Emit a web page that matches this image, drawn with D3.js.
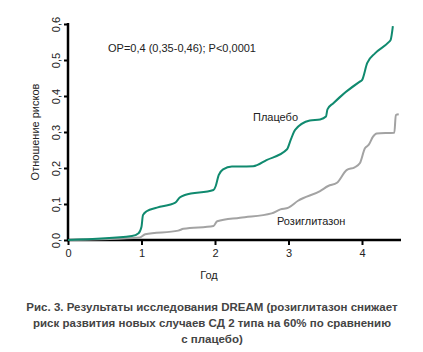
<!DOCTYPE html>
<html>
<head>
<meta charset="utf-8">
<script src="https://cdn.jsdelivr.net/npm/d3@7"></script>
<style>
  body { margin: 0; background: #fff; }
  text { font-family: "Liberation Sans", Arial, sans-serif; }
</style>
</head>
<body>
<script>
// years and cumulative risk
var placeboT = [0, 0.87, 0.96, 1.0, 1.02, 1.07, 1.21, 1.46, 1.52, 1.59, 1.98, 2.01, 2.05, 2.11, 2.23, 2.34, 2.52, 2.70, 2.98, 3.03, 3.09, 3.29, 3.43, 3.51, 3.53, 3.61, 3.97, 4.0, 4.07, 4.18, 4.36, 4.39, 4.42];
var placeboV = [0, 0.011, 0.019, 0.037, 0.069, 0.08, 0.09, 0.104, 0.118, 0.125, 0.139, 0.15, 0.18, 0.196, 0.204, 0.204, 0.205, 0.222, 0.252, 0.278, 0.306, 0.332, 0.335, 0.343, 0.363, 0.38, 0.44, 0.444, 0.491, 0.519, 0.549, 0.556, 0.594];

var rosiT = [0, 0.98, 1.05, 1.5, 1.57, 1.98, 2.03, 2.34, 2.77, 2.89, 3.0, 3.13, 3.43, 3.54, 3.66, 3.79, 3.9, 3.97, 4.04, 4.09, 4.15, 4.2, 4.44, 4.46, 4.5];
var rosiV = [0, 0.007, 0.016, 0.026, 0.031, 0.039, 0.052, 0.062, 0.074, 0.085, 0.09, 0.109, 0.136, 0.15, 0.159, 0.194, 0.202, 0.213, 0.255, 0.264, 0.287, 0.296, 0.298, 0.347, 0.349];

var xTicks = [0, 1, 2, 3, 4];
var yTicks = [0, 0.1, 0.2, 0.3, 0.4, 0.5, 0.6];

var caption = [
  "Рис. 3. Результаты исследования DREAM (розиглитазон снижает",
  "риск развития новых случаев СД 2 типа на 60% по сравнению",
  "с плацебо)"
];

var w = 423, h = 352;

var svg = d3.select("body")
  .append("svg")
  .attr("width", w)
  .attr("height", h);

var x = d3.scaleLinear().domain([0, 4.5]).range([68, 398.75]);
var y = d3.scaleLinear().domain([0, 0.6]).range([240, 24]);

var fmt = function (d) { return d3.format(".1f")(d).replace(".", ","); };

// x axis
var xaxis = svg.append("g")
  .attr("transform", "translate(0,240)")
  .call(d3.axisBottom(x).tickValues(xTicks).tickSize(5).tickSizeOuter(0).tickFormat(d3.format("d")));
xaxis.select(".domain").attr("stroke-width", 2.5).attr("d", "M67,0H401");
xaxis.selectAll(".tick line").attr("stroke-width", 2);
xaxis.selectAll(".tick text").attr("font-size", 11).attr("fill", "#222").attr("y", 9);

// y axis
var yaxis = svg.append("g")
  .attr("transform", "translate(68,0)")
  .call(d3.axisLeft(y).tickValues(yTicks).tickSize(4).tickSizeOuter(0).tickFormat(fmt));
yaxis.select(".domain").attr("stroke-width", 2.5).attr("d", "M0,23V241");
yaxis.selectAll(".tick line").attr("stroke-width", 2);
yaxis.selectAll(".tick text")
  .attr("font-size", 11)
  .attr("fill", "#222")
  .attr("x", 0).attr("dy", 0)
  .attr("text-anchor", "middle")
  .attr("transform", "translate(-8,0) rotate(-90)");

// axis titles
svg.append("text")
  .attr("x", 209).attr("y", 279)
  .attr("text-anchor", "middle")
  .attr("font-size", 11).attr("fill", "#222")
  .text("Год");

svg.append("text")
  .attr("transform", "translate(39,132) rotate(-90)")
  .attr("text-anchor", "middle")
  .attr("font-size", 11).attr("fill", "#222")
  .text("Отношение рисков");

// curves
var line = d3.line()
  .x(function (d) { return x(d[0]); })
  .y(function (d) { return y(d[1]); })
  .curve(d3.curveMonotoneX);

svg.append("path")
  .datum(d3.zip(rosiT, rosiV))
  .attr("d", line)
  .attr("fill", "none")
  .attr("stroke", "#a3a3a3")
  .attr("stroke-width", 2);

svg.append("path")
  .datum(d3.zip(placeboT, placeboV))
  .attr("d", line)
  .attr("fill", "none")
  .attr("stroke", "#108a6f")
  .attr("stroke-width", 2);

// labels
svg.append("text")
  .attr("x", 108).attr("y", 52)
  .attr("font-size", 11).attr("fill", "#222")
  .text("ОР=0,4 (0,35-0,46); P<0,0001");

svg.append("text")
  .attr("x", 253).attr("y", 121)
  .attr("font-size", 11).attr("fill", "#222")
  .text("Плацебо");

svg.append("text")
  .attr("x", 277).attr("y", 225)
  .attr("font-size", 11).attr("fill", "#222")
  .text("Розиглитазон");

// caption
svg.append("g").selectAll("text")
  .data(caption)
  .enter()
  .append("text")
  .attr("x", 212)
  .attr("y", function (d, i) { return 311 + i * 16; })
  .attr("text-anchor", "middle")
  .attr("font-size", 11.5)
  .attr("font-weight", "bold")
  .attr("fill", "#444")
  .text(function (d) { return d; });
</script>
</body>
</html>
